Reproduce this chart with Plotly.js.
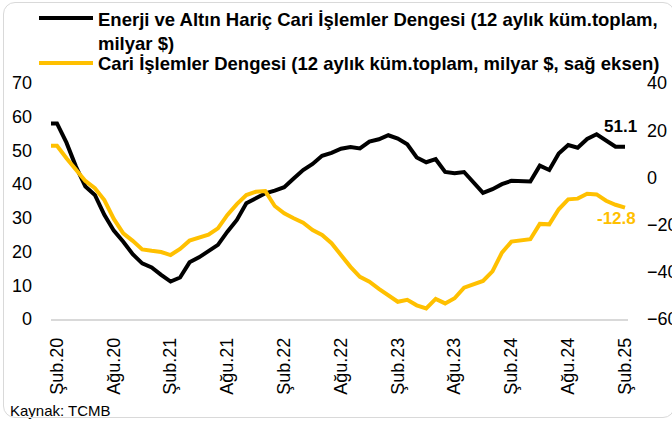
<!DOCTYPE html>
<html><head><meta charset="utf-8">
<script src="https://cdn.plot.ly/plotly-3.0.1.min.js"></script>
<style>
html,body{margin:0;padding:0;background:#fff;}
#chart{width:672px;height:423px;position:absolute;left:0;top:0;}
#frame{position:absolute;left:3px;top:2px;width:672px;height:416px;border:1.5px solid #d9d9d9;border-radius:12px;pointer-events:none;box-sizing:border-box;}
</style>
</head><body>
<div id="chart"></div><div id="frame"></div>
<script>
const monthNames = ["Oca","Şub","Mar","Nis","May","Haz","Tem","Ağu","Eyl","Eki","Kas","Ara"];
const years = [2020, 2021, 2022, 2023, 2024, 2025];
const categories = [];
years.forEach(y => monthNames.forEach((m, i) => {
  if (y === 2025 && i > 1) return;
  categories.push(m + "." + String(y).slice(2));
}));

const tickLabels = ["Şub.20","Ağu.20","Şub.21","Ağu.21","Şub.22","Ağu.22","Şub.23","Ağu.23","Şub.24","Ağu.24","Şub.25"];

const seriesNames = [
  "Enerji ve Altın Hariç Cari İşlemler Dengesi (12 aylık küm.toplam,<br>milyar $)",
  "Cari İşlemler Dengesi (12 aylık küm.toplam, milyar $, sağ eksen)"
];

// Energy & gold excluded current account balance (left axis), Oca.20 .. Şub.25
const coreBalance = [
  58.0, 58.0, 52.3, 45.2, 39.3, 36.8, 30.9, 26.2, 22.9, 19.2, 16.5, 15.3, 13.1,
  11.1, 12.3, 16.8, 18.3, 20.0, 22.0, 25.9, 29.4, 34.3, 35.8, 37.3, 38.1,
  39.1, 41.7, 44.2, 46.0, 48.4, 49.3, 50.5, 51.0, 50.6, 52.6, 53.3, 54.5,
  53.5, 51.8, 47.9, 46.5, 47.4, 43.6, 43.2, 43.6, 40.3, 37.4, 38.5, 40.0,
  41.0, 41.0, 40.8, 45.5, 44.2, 49.1, 51.6, 50.8, 53.4, 54.8, 52.9, 51.1,
  51.1
];

// Current account balance (right axis), Oca.20 .. Şub.25
const currentAccount = [
  13.5, 13.4, 8.1, 3.4, -1.5, -4.6, -9.6, -17.6, -23.7, -26.9, -30.5, -31.1, -31.6,
  -32.9, -30.3, -26.8, -25.7, -24.3, -21.6, -15.9, -11.3, -7.5, -6.1, -5.8, -12.1,
  -15.2, -17.3, -19.2, -22.3, -24.4, -27.9, -32.8, -37.9, -42.1, -44.2, -47.2, -50.1,
  -52.7, -51.9, -54.2, -55.5, -51.5, -53.4, -51.2, -46.7, -45.4, -43.9, -39.8, -31.9,
  -27.2, -26.5, -26.2, -19.7, -19.9, -13.5, -9.3, -9.0, -6.9, -7.2, -9.9, -11.6,
  -12.8
];

const BLACK = "#000000", GOLD = "#FFC000";
const FONT = "'Liberation Sans', Arial, sans-serif";
const NARROW = "'Liberation Sans Narrow', 'Liberation Sans', Arial, sans-serif";

const lastCat = categories[categories.length - 1];
const lastCore = coreBalance[coreBalance.length - 1];
const lastCA = currentAccount[currentAccount.length - 1];

const traces = [
  {x: categories, y: coreBalance, type: "scatter", mode: "lines", name: seriesNames[0],
   line: {color: BLACK, width: 4}, yaxis: "y", showlegend: false},
  {x: categories, y: currentAccount, type: "scatter", mode: "lines", name: seriesNames[1],
   line: {color: GOLD, width: 4}, yaxis: "y2", showlegend: false}
];

const L = 51, R = 628, T = 83, B = 319;
const px = v => (v - L) / (R - L);
const py = v => (B - v) / (B - T);

const layout = {
  width: 672, height: 423,
  margin: {l: L, r: 672 - R, t: T, b: 423 - B, pad: 0},
  paper_bgcolor: "#ffffff", plot_bgcolor: "#ffffff",
  font: {family: FONT, color: "#000", size: 18},
  showlegend: false,
  xaxis: {
    type: "category", categoryorder: "array", categoryarray: categories,
    range: [0.366, 61.317],
    tickvals: tickLabels, ticktext: tickLabels, tickangle: -90,
    showline: true, linecolor: "#d9d9d9", linewidth: 1.5,
    ticks: "", showgrid: false, zeroline: false,
    tickfont: {family: FONT, size: 18, color: "#000"},
    ticklabelstandoff: 10
  },
  yaxis: {
    range: [0, 70], dtick: 10, tick0: 0,
    showgrid: false, zeroline: false, showline: false, ticks: "",
    tickfont: {family: FONT, size: 18, color: "#000"},
    ticklabelstandoff: 18
  },
  yaxis2: {
    range: [-60, 40], dtick: 20, tick0: 0, overlaying: "y", side: "right",
    showgrid: false, zeroline: false, showline: false, ticks: "",
    tickfont: {family: FONT, size: 18, color: "#000"},
    ticklabelstandoff: 18
  },
  shapes: [
    {type: "line", xref: "paper", yref: "paper", x0: px(39), x1: px(93), y0: py(18), y1: py(18),
     line: {color: BLACK, width: 4}},
    {type: "line", xref: "paper", yref: "paper", x0: px(39), x1: px(93), y0: py(63), y1: py(63),
     line: {color: GOLD, width: 4}}
  ],
  annotations: [
    {xref: "paper", yref: "paper", x: px(96), y: py(7), xanchor: "left", yanchor: "top",
     align: "left", showarrow: false, text: seriesNames[0],
     font: {family: NARROW, size: 18.5, color: "#000", weight: "bold"}},
    {xref: "paper", yref: "paper", x: px(96), y: py(63), xanchor: "left", yanchor: "middle",
     align: "left", showarrow: false, text: seriesNames[1],
     font: {family: NARROW, size: 18.5, color: "#000", weight: "bold"}},
    {xref: "x", yref: "y", x: lastCat, y: lastCore, xanchor: "center", yanchor: "middle",
     xshift: -5, yshift: 20, showarrow: false, text: lastCore.toFixed(1),
     font: {family: FONT, size: 17, color: BLACK, weight: "bold"}},
    {xref: "x", yref: "y2", x: lastCat, y: lastCA, xanchor: "center", yanchor: "middle",
     xshift: -9, yshift: -11, showarrow: false, text: lastCA.toFixed(1),
     font: {family: FONT, size: 17, color: GOLD, weight: "bold"}},
    {xref: "paper", yref: "paper", x: px(8), y: py(410), xanchor: "left", yanchor: "middle",
     showarrow: false, text: "Kaynak: TCMB",
     font: {family: FONT, size: 15, color: "#000"}}
  ]
};

Plotly.newPlot("chart", traces, layout, {displayModeBar: false, staticPlot: true});
</script>
</body></html>
